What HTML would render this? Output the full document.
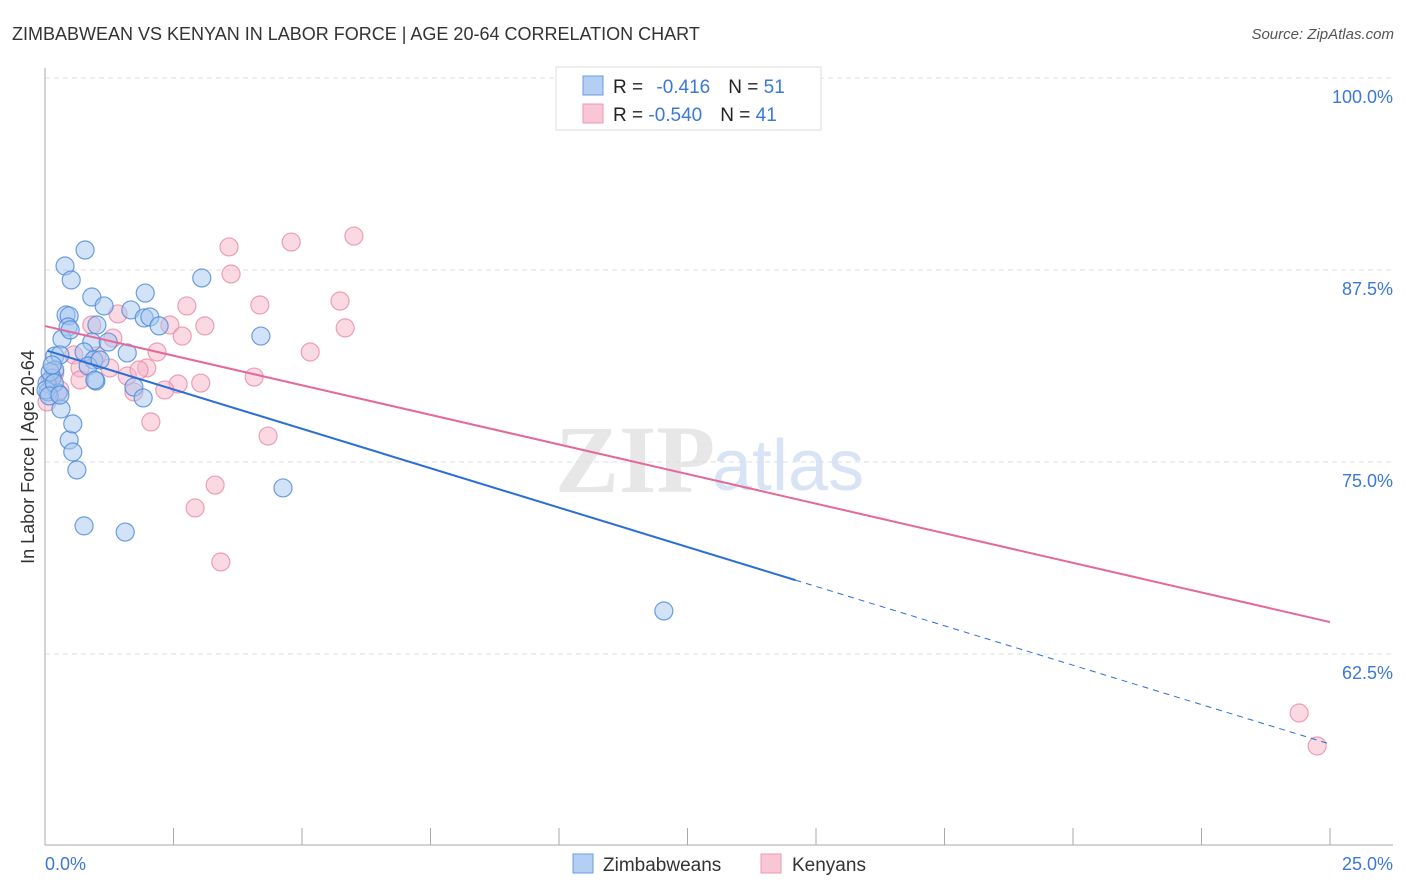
<!DOCTYPE html>
<html><head><meta charset="utf-8">
<style>
body{margin:0;background:#fff;width:1406px;height:892px;overflow:hidden;font-family:"Liberation Sans",sans-serif;}
svg{position:absolute;left:0;top:0}
</style></head>
<body>
<svg id="chart" width="1406" height="892">
<text x="12" y="40" font-size="18" fill="#333">ZIMBABWEAN VS KENYAN IN LABOR FORCE | AGE 20-64 CORRELATION CHART</text>
<text x="1394" y="39" font-size="15" fill="#555" font-style="italic" text-anchor="end">Source: ZipAtlas.com</text>
<g>
<text x="555" y="492" font-size="96" fill="#ddd" font-family="Liberation Serif" font-weight="bold" opacity="0.7">ZIP</text>
<text x="712" y="490" font-size="72" fill="#c8daf2" opacity="0.7">atlas</text>
</g>
<g id="grid"></g>
<g id="axes"></g>
<g id="pts"></g>
<g id="lines"></g>
<text transform="translate(34,457) rotate(-90)" font-size="18" fill="#333" text-anchor="middle">In Labor Force | Age 20-64</text>
<text x="45" y="870" font-size="18" fill="#3b78d8">0.0%</text>
<text x="1393" y="870" font-size="18" fill="#3b78d8" text-anchor="end">25.0%</text>
<g>
<rect x="556" y="67" width="265" height="63" fill="#fff" stroke="#ddd"/>
<rect x="583" y="76" width="20" height="19" fill="#b4cff3" stroke="#6a9be0"/>
<rect x="583" y="104" width="20" height="19" fill="#f9c6d6" stroke="#eb98b3"/>
<text x="613" y="93" font-size="19" fill="#222">R = <tspan fill="#3b78d8" dx="8">-0.416</tspan><tspan dx="18" fill="#222">N = </tspan><tspan fill="#3b78d8">51</tspan></text>
<text x="613" y="121" font-size="19" fill="#222">R = <tspan fill="#3b78d8">-0.540</tspan><tspan dx="18" fill="#222">N = </tspan><tspan fill="#3b78d8">41</tspan></text>
</g>
<g>
<rect x="573" y="854" width="20" height="19" fill="#b4cff3" stroke="#6a9be0"/>
<text x="603" y="871" font-size="19" fill="#333">Zimbabweans</text>
<rect x="761" y="854" width="20" height="19" fill="#f9c6d6" stroke="#eb98b3"/>
<text x="792" y="871" font-size="19" fill="#333">Kenyans</text>
</g>
</svg>
<script>
const yTicks=[100,87.5,75,62.5];
const yTickLabels=["100.0%","87.5%","75.0%","62.5%"];
const xTicks=[0,2.5,5,7.5,10,12.5,15,17.5,20,22.5,25];
const blueX=[0.78,0.39,0.51,0.91,1.15,1.95,3.05,1.67,0.41,0.47,1.93,2.04,2.22,0.45,1.01,4.20,0.33,0.91,1.23,0.76,0.19,1.60,0.29,0.95,0.84,0.19,0.14,0.99,1.73,0.04,0.25,0.06,1.91,0.31,0.47,0.54,0.54,0.62,0.76,1.56,4.63,12.04,0.02,0.10,0.18,0.08,0.97,0.29,0.14,0.49,1.07];
const blueY=[88.80,87.76,86.85,85.74,85.16,86.00,86.98,84.90,84.57,84.51,84.38,84.44,83.86,83.79,83.92,83.20,83.01,82.81,82.81,82.16,81.90,82.10,81.97,81.64,81.25,80.99,80.47,80.27,79.88,80.14,79.49,79.56,79.17,78.45,76.43,77.48,75.65,74.48,70.84,70.44,73.31,65.30,79.69,80.86,80.14,79.30,80.34,79.36,81.32,83.60,81.64];
const pinkX=[10.33,6.01,4.79,3.58,3.62,2.76,4.18,5.74,1.42,0.91,2.43,3.11,5.84,2.67,1.32,5.16,2.18,1.01,0.56,1.98,0.68,1.26,1.60,1.83,2.59,3.03,4.07,2.33,1.73,2.06,4.34,3.31,2.92,3.42,24.40,24.75,0.10,0.19,0.04,0.29,0.68];
const pinkY=[99.87,89.71,89.32,89.00,87.24,85.16,85.22,85.48,84.64,83.92,83.92,83.86,83.73,83.20,83.07,82.16,82.16,81.90,81.97,81.12,81.12,81.12,80.60,80.99,80.08,80.14,80.53,79.69,79.56,77.61,76.69,73.50,72.01,68.49,58.66,56.51,80.34,80.79,78.91,79.69,80.34];
const blueTrend=[82.29,56.64]; // y at x=0 and x=25
const blueSolidEnd=14.6;
const pinkTrend=[83.85,64.58];
const NS="http://www.w3.org/2000/svg";
const xs=v=>45+v/25*1285;
const ys=v=>78+(100-v)/12.5*192;
function mk(tag,attrs,parent){const e=document.createElementNS(NS,tag);for(const k in attrs)e.setAttribute(k,attrs[k]);parent.appendChild(e);return e;}
const grid=document.getElementById('grid'),axes=document.getElementById('axes'),pts=document.getElementById('pts'),lines=document.getElementById('lines');
yTicks.forEach((t,i)=>{
 const l=mk('line',{x1:45,x2:1393,y1:ys(t),y2:ys(t),stroke:'#ddd','stroke-dasharray':'5,4'},grid);
 
 
 const tx=mk('text',{x:1393,y:ys(t)+25,'font-size':18,fill:'#3b78d8','text-anchor':'end'},grid);
 tx.textContent=yTickLabels[i];
 
 
});
const ya=mk('line',{x1:45,x2:45,y1:68,y2:845,stroke:'#aaa'},axes);


const xa=mk('line',{x1:45,x2:1393,y1:845,y2:845,stroke:'#aaa'},axes);


xTicks.forEach(t=>{
 const l=mk('line',{x1:xs(t),x2:xs(t),y1:828,y2:845,stroke:'#aaa'},axes);
 
 
});
function dots(X,Y,fill,stroke,name){X.forEach((x,i)=>{
 const c=mk('circle',{cx:xs(x),cy:ys(Y[i]),r:9,fill:fill,'fill-opacity':0.5,stroke:stroke,'stroke-opacity':0.8,'stroke-width':1.2},pts);
 
 
});}
dots(pinkX,pinkY,'#f6b3c8','#e98aa9','kenyan-point');
dots(blueX,blueY,'#a6c6f0','#4a88d8','zimbabwean-point');
const by=x=>blueTrend[0]+(blueTrend[1]-blueTrend[0])*x/25;
const py=x=>pinkTrend[0]+(pinkTrend[1]-pinkTrend[0])*x/25;
const b1=mk('line',{x1:xs(0.05),y1:ys(by(0.05)),x2:xs(blueSolidEnd),y2:ys(by(blueSolidEnd)),stroke:'#2a6fd6','stroke-width':2},lines);


const b2=mk('line',{x1:xs(blueSolidEnd),y1:ys(by(blueSolidEnd)),x2:xs(25),y2:ys(by(25)),stroke:'#2a6fd6','stroke-width':1,'stroke-dasharray':'6,5'},lines);


const p1=mk('line',{x1:xs(0),y1:ys(py(0)),x2:xs(25),y2:ys(py(25)),stroke:'#e5689a','stroke-width':2},lines);


</script>
</body></html>
